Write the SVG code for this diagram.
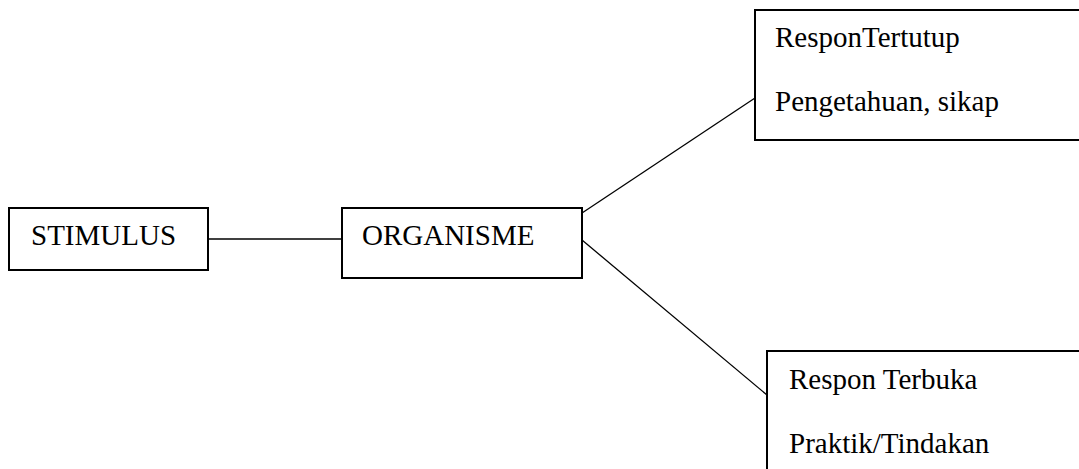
<svg xmlns="http://www.w3.org/2000/svg" width="1079" height="469" viewBox="0 0 1079 469">
<style>
.box{fill:#fff;stroke:#000;stroke-width:2}
.t{font-family:"Liberation Serif","Times New Roman",serif;font-size:29px;fill:#000}
.c{stroke:#000;stroke-width:1.3;fill:none}
</style>
<rect width="1079" height="469" fill="#fff"/>
<g id="connectors">
<line class="c" x1="208" y1="239" x2="342" y2="239"/>
<line class="c" x1="582" y1="213" x2="755" y2="98"/>
<line class="c" x1="582" y1="240" x2="767" y2="395"/>
</g>
<g id="stimulus">
<rect class="box" x="9" y="208" width="199" height="62"/>
<text class="t" x="31" y="245">STIMULUS</text>
</g>
<g id="organisme">
<rect class="box" x="342" y="208" width="240" height="70"/>
<text class="t" x="362" y="245">ORGANISME</text>
</g>
<g id="respon-tertutup">
<rect class="box" x="755" y="10" width="340" height="130"/>
<text class="t" x="775" y="47">ResponTertutup</text>
<text class="t" x="775" y="111">Pengetahuan, sikap</text>
</g>
<g id="respon-terbuka">
<rect class="box" x="767" y="351" width="340" height="140"/>
<text class="t" x="789" y="389">Respon Terbuka</text>
<text class="t" x="789" y="453">Praktik/Tindakan</text>
</g>
</svg>
